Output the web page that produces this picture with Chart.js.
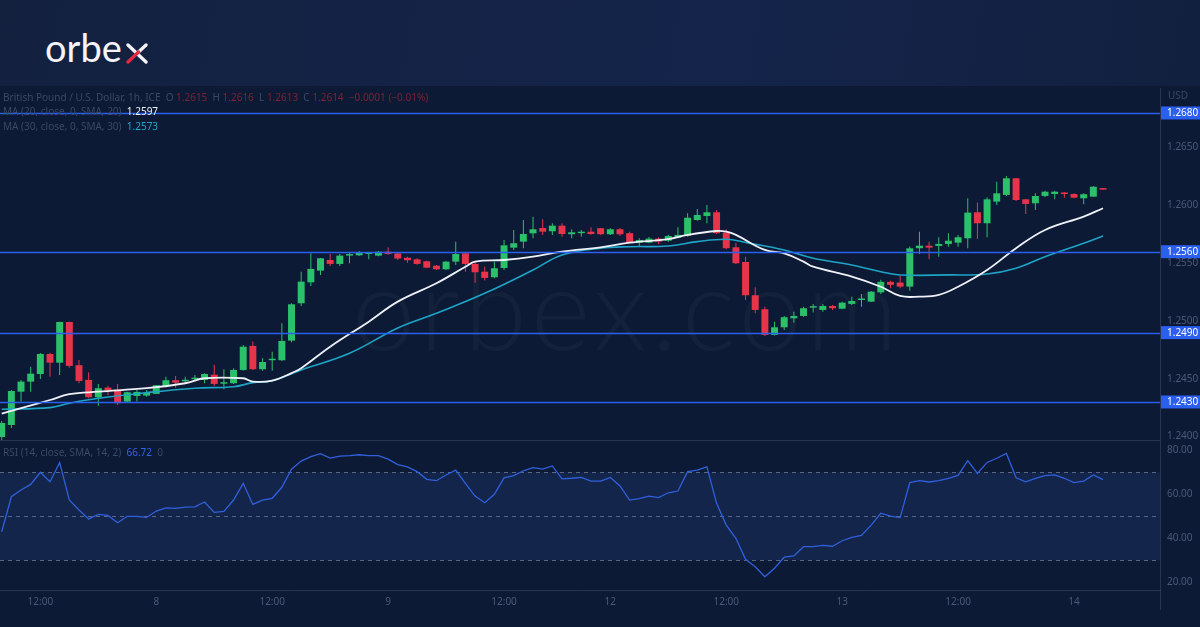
<!DOCTYPE html>
<html>
<head>
<meta charset="utf-8">
<script src="https://cdn.jsdelivr.net/npm/chart.js@4.4.0/dist/chart.umd.min.js"></script>
<style>
  html, body { margin: 0; padding: 0; width: 1200px; height: 627px; overflow: hidden; background: #0d1a35; font-family: "Noto Sans", sans-serif; }
  #top { position: absolute; left: 0; top: 0; width: 1200px; height: 86px; background: linear-gradient(100deg, #13213f 0%, #14244a 60%, #12203f 100%); }
  #logo { position: absolute; left: 45px; top: 25px; font-family: Lato, sans-serif; font-size: 38px; line-height: 1.2; color: #f4f4f8; }
  #logox { position: absolute; left: 126px; top: 43px; }
  #wm { position: absolute; left: 352px; top: 238px; font-family: Lato, sans-serif; font-weight: 300; font-size: 114px; line-height: 1.2; letter-spacing: 4px; color: rgba(255,255,255,0.032); white-space: nowrap; }
  #pw { position: absolute; left: 0; top: 0; width: 1200px; height: 440px; overflow: hidden; }
  #rw { position: absolute; left: 0; top: 420px; width: 1200px; height: 207px; }
  canvas { display: block; }
  .t { position: absolute; font-size: 10px; color: #3b4864; white-space: pre; line-height: 12px; }
  .r { color: #7c2232; }
</style>
</head>
<body>
<div id="top"></div>
<div id="logo">orbe</div>
<svg id="logox" width="22" height="21" viewBox="0 0 22 21">
  <line x1="2" y1="2" x2="20" y2="19" stroke="#f4f4f8" stroke-width="3.3" stroke-linecap="round"/>
  <line x1="20" y1="2" x2="11.5" y2="10" stroke="#f4f4f8" stroke-width="3.3" stroke-linecap="round"/>
  <line x1="12.5" y1="9" x2="2" y2="19" stroke="#e3283f" stroke-width="3.3" stroke-linecap="round"/>
</svg>
<div id="wm">orbex.com</div>
<div id="pw"><canvas id="price" width="1200" height="460"></canvas></div>
<div id="rw"><canvas id="rsi" width="1200" height="207"></canvas></div>
<div class="t" style="left:3px;top:91px">British Pound / U.S. Dollar, 1h, ICE  O <span class="r">1.2615</span>  H <span class="r">1.2616</span>  L <span class="r">1.2613</span>  C <span class="r">1.2614  −0.0001 (−0.01%)</span></div>
<div class="t" style="left:3px;top:105px">MA (20, close, 0, SMA, 20)  <span style="color:#eef1f7">1.2597</span></div>
<div class="t" style="left:3px;top:120px">MA (30, close, 0, SMA, 30)  <span style="color:#22a6c8">1.2573</span></div>
<div class="t" style="left:1168px;top:89px">USD</div>
<div class="t" style="left:3px;top:446px">RSI (14, close, SMA, 14, 2)  <span style="color:#2f64e8">66.72</span>  0</div>
<script>
// hourly candles, GBP/USD 1h, index 0 = 7th 08:00
const opens = [
  1.23997, 1.24101, 1.24389, 1.24476, 1.24542, 1.24715, 1.24640, 1.24992, 1.24618, 1.24491,
  1.24341, 1.24424, 1.24407, 1.24303, 1.24352, 1.24355, 1.24370, 1.24439, 1.24488, 1.24479,
  1.24497, 1.24491, 1.24536, 1.24458, 1.24462, 1.24577, 1.24785, 1.24583, 1.24661, 1.24661,
  1.24831, 1.25154, 1.25335, 1.25436, 1.25528, 1.25494, 1.25566, 1.25569, 1.25580, 1.25566,
  1.25600, 1.25585, 1.25548, 1.25534, 1.25517, 1.25479, 1.25448, 1.25514, 1.25586, 1.25494,
  1.25427, 1.25379, 1.25459, 1.25635, 1.25687, 1.25759, 1.25805, 1.25777, 1.25825, 1.25751,
  1.25760, 1.25773, 1.25803, 1.25751, 1.25794, 1.25760, 1.25678, 1.25678, 1.25713, 1.25695,
  1.25721, 1.25736, 1.25874, 1.25909, 1.25941, 1.25765, 1.25638, 1.25511, 1.25223, 1.25102,
  1.24880, 1.24946, 1.25024, 1.25044, 1.25116, 1.25096, 1.25130, 1.25107, 1.25148, 1.25182,
  1.25168, 1.25248, 1.25339, 1.25333, 1.25298, 1.25630, 1.25652, 1.25650, 1.25667, 1.25678,
  1.25716, 1.25941, 1.25846, 1.26033, 1.26091, 1.26235, 1.26053, 1.26019, 1.26082, 1.26099,
  1.26111, 1.26099, 1.26062, 1.26076, 1.26149
];
const highs = [
  1.24136, 1.24404, 1.24490, 1.24605, 1.24724, 1.24725, 1.24995, 1.24995, 1.24663, 1.24557,
  1.24456, 1.24441, 1.24456, 1.24389, 1.24404, 1.24404, 1.24447, 1.24519, 1.24525, 1.24519,
  1.24534, 1.24548, 1.24623, 1.24583, 1.24592, 1.24793, 1.24822, 1.24678, 1.24735, 1.24981,
  1.25154, 1.25427, 1.25586, 1.25545, 1.25580, 1.25580, 1.25592, 1.25606, 1.25600, 1.25606,
  1.25638, 1.25598, 1.25557, 1.25543, 1.25522, 1.25485, 1.25520, 1.25687, 1.25595, 1.25514,
  1.25470, 1.25514, 1.25701, 1.25788, 1.25874, 1.25903, 1.25881, 1.25846, 1.25846, 1.25794,
  1.25788, 1.25811, 1.25805, 1.25803, 1.25805, 1.25773, 1.25716, 1.25727, 1.25725, 1.25747,
  1.25811, 1.25932, 1.25970, 1.26004, 1.25961, 1.25794, 1.25678, 1.25557, 1.25292, 1.25124,
  1.24995, 1.25044, 1.25081, 1.25124, 1.25148, 1.25148, 1.25139, 1.25168, 1.25211, 1.25234,
  1.25260, 1.25357, 1.25348, 1.25390, 1.25644, 1.25773, 1.25687, 1.25725, 1.25760, 1.25745,
  1.26062, 1.26024, 1.26071, 1.26206, 1.26255, 1.26238, 1.26053, 1.26105, 1.26128, 1.26128,
  1.26117, 1.26105, 1.26105, 1.26168, 1.26151
];
const lows = [
  1.23971, 1.24075, 1.24303, 1.24389, 1.24499, 1.24519, 1.24534, 1.24597, 1.24462, 1.24332,
  1.24268, 1.24358, 1.24274, 1.24294, 1.24303, 1.24346, 1.24370, 1.24427, 1.24424, 1.24462,
  1.24485, 1.24462, 1.24439, 1.24410, 1.24456, 1.24571, 1.24577, 1.24571, 1.24571, 1.24655,
  1.24817, 1.25130, 1.25304, 1.25399, 1.25477, 1.25477, 1.25499, 1.25563, 1.25535, 1.25560,
  1.25574, 1.25528, 1.25505, 1.25488, 1.25457, 1.25442, 1.25442, 1.25485, 1.25427, 1.25332,
  1.25350, 1.25370, 1.25442, 1.25615, 1.25630, 1.25716, 1.25745, 1.25745, 1.25730, 1.25716,
  1.25730, 1.25747, 1.25745, 1.25745, 1.25736, 1.25674, 1.25650, 1.25674, 1.25667, 1.25687,
  1.25716, 1.25730, 1.25868, 1.25846, 1.25753, 1.25621, 1.25494, 1.25182, 1.25067, 1.24871,
  1.24874, 1.24923, 1.24986, 1.25038, 1.25073, 1.25081, 1.25096, 1.25102, 1.25139, 1.25124,
  1.25165, 1.25234, 1.25284, 1.25284, 1.25263, 1.25580, 1.25535, 1.25557, 1.25643, 1.25643,
  1.25630, 1.25710, 1.25725, 1.26004, 1.26082, 1.26039, 1.25926, 1.25961, 1.26071, 1.26053,
  1.26067, 1.26062, 1.26010, 1.26073, 1.26134
];
const closes = [
  1.24118, 1.24395, 1.24476, 1.24545, 1.24715, 1.24640, 1.24992, 1.24612, 1.24482, 1.24341,
  1.24419, 1.24398, 1.24289, 1.24384, 1.24387, 1.24378, 1.24445, 1.24488, 1.24467, 1.24491,
  1.24508, 1.24542, 1.24456, 1.24464, 1.24577, 1.24778, 1.24583, 1.24646, 1.24666, 1.24828,
  1.25145, 1.25341, 1.25451, 1.25543, 1.25494, 1.25566, 1.25572, 1.25595, 1.25595, 1.25600,
  1.25580, 1.25541, 1.25526, 1.25494, 1.25462, 1.25448, 1.25514, 1.25580, 1.25494, 1.25422,
  1.25373, 1.25457, 1.25655, 1.25673, 1.25753, 1.25794, 1.25773, 1.25825, 1.25753, 1.25768,
  1.25771, 1.25753, 1.25751, 1.25794, 1.25751, 1.25682, 1.25701, 1.25713, 1.25687, 1.25736,
  1.25745, 1.25894, 1.25918, 1.25941, 1.25760, 1.25630, 1.25500, 1.25223, 1.25096, 1.24880,
  1.24946, 1.25033, 1.25044, 1.25111, 1.25124, 1.25130, 1.25111, 1.25159, 1.25174, 1.25188,
  1.25254, 1.25339, 1.25313, 1.25298, 1.25629, 1.25652, 1.25635, 1.25667, 1.25695, 1.25725,
  1.25938, 1.25846, 1.26053, 1.26105, 1.26235, 1.26047, 1.26013, 1.26082, 1.26119, 1.26119,
  1.26099, 1.26067, 1.26097, 1.26162, 1.26137
];

// moving averages at these candle indices
const ma20Idx = [0, 2, 5, 7, 10, 15, 19, 21, 25, 26, 28, 30, 31, 34, 38, 41, 45, 48, 49, 52, 55, 58, 62, 65, 69, 71, 74, 75, 76, 79, 81, 83, 84, 88, 91, 93, 95, 97, 99, 102, 105, 108, 112, 114];
const ma20 = [1.24200, 1.24246, 1.24317, 1.24367, 1.24389, 1.24419, 1.24462, 1.24505, 1.24505, 1.24476, 1.24484, 1.24550, 1.24592, 1.24778, 1.24995, 1.25168, 1.25327, 1.25470, 1.25514, 1.25528, 1.25557, 1.25600, 1.25638, 1.25678, 1.25708, 1.25745, 1.25779, 1.25773, 1.25745, 1.25615, 1.25586, 1.25514, 1.25470, 1.25384, 1.25297, 1.25217, 1.25211, 1.25226, 1.25297, 1.25442, 1.25630, 1.25788, 1.25903, 1.25976];
const ma30Idx = [0, 5, 7, 10, 15, 20, 24, 26, 28, 31, 36, 41, 45, 50, 55, 58, 62, 65, 69, 72, 75, 77, 81, 84, 88, 91, 93, 98, 102, 105, 108, 112, 114];
const ma30 = [1.24237, 1.24251, 1.24289, 1.24332, 1.24381, 1.24419, 1.24432, 1.24467, 1.24484, 1.24577, 1.24721, 1.24940, 1.25067, 1.25240, 1.25442, 1.25572, 1.25630, 1.25643, 1.25649, 1.25687, 1.25708, 1.25680, 1.25615, 1.25543, 1.25485, 1.25427, 1.25399, 1.25399, 1.25407, 1.25457, 1.25557, 1.25673, 1.25736];

const rsi = [
  43, 58.9, 62, 64.5, 70, 65.7, 74.4, 57.4, 52.9, 48.8,
  50.9, 50.4, 47.1, 50, 50, 49.5, 52.4, 53.8, 53.6, 54.2,
  54.3, 56.5, 51.8, 52.2, 57.4, 65, 55.4, 57.4, 58.2, 63.2,
  71.4, 75.1, 77.1, 78.5, 76.5, 77.4, 77.6, 78, 77.6, 77.6,
  76, 73.5, 72.5, 70.3, 66.8, 66.2, 68.8, 71, 65, 59.2,
  56.2, 60, 67.5, 68.5, 70.7, 72.1, 71.5, 72.9, 67, 67.3,
  67.7, 66, 66, 67.7, 63.8, 57.4, 58, 59.2, 58.5, 60.7,
  61.5, 70.3, 71, 72.5, 55.9, 46, 40, 30.5, 27.1, 22.5,
  26.4, 31.4, 32, 36.2, 36.2, 36.8, 36.4, 38.9, 40.4, 41.3,
  46, 51.4, 50.1, 49.4, 65.3, 66.2, 65.6, 66.2, 67.3, 68.6,
  75.3, 69.5, 74.5, 76.4, 78.6, 67.5, 65.7, 67.3, 68.5, 68.8,
  67.3, 65.3, 66, 68.8, 66.72
];

const levels = [1.2680, 1.2560, 1.2490, 1.2430];
const priceTicks = [1.2400, 1.2450, 1.2500, 1.2550, 1.2600, 1.2650];
const rsiTicks = [20, 40, 60, 80];
const rsiBands = [70, 50, 30];
const timeTickIdx = [4, 16, 28, 40, 52, 63, 75, 87, 99, 111];
const timeTickText = ['12:00', '8', '12:00', '9', '12:00', '12', '12:00', '13', '12:00', '14'];

const UP = '#2bc16a', DOWN = '#e8344a', LEVEL = '#2a5ff0';
const AXIS_TXT = '#4b5877', FRAME = 'rgba(120,135,170,0.25)';
const X_MIN = -0.176, X_MAX = 119.9;

const idx = opens.map((_, i) => i);
const candleColors = idx.map(i => closes[i] >= opens[i] ? UP : DOWN);

const xScale = (show) => ({
  type: 'linear', min: X_MIN, max: X_MAX, offset: false, display: show,
  grid: { display: false, drawTicks: false },
  border: { display: show, color: FRAME },
  afterBuildTicks: s => { s.ticks = timeTickIdx.map(v => ({ value: v })); },
  afterFit: s => { if (show) s.height = 37; },
  ticks: {
    autoSkip: false, maxRotation: 0, padding: 6, color: AXIS_TXT,
    font: { size: 10, family: 'Noto Sans' },
    callback: v => timeTickText[timeTickIdx.indexOf(v)]
  }
});

const yTicks = (list, digits) => ({
  color: AXIS_TXT, padding: 7, font: { size: 10, family: 'Noto Sans' },
  callback: v => v.toFixed(digits)
});

const levelPlugin = {
  id: 'levels',
  afterDatasetsDraw(chart) {
    const { ctx, chartArea, scales: { y } } = chart;
    ctx.save();
    ctx.strokeStyle = LEVEL;
    ctx.lineWidth = 1.5;
    levels.forEach(l => {
      const py = Math.round(y.getPixelForValue(l)) + 0.5;
      ctx.beginPath(); ctx.moveTo(chartArea.left, py); ctx.lineTo(chartArea.right, py); ctx.stroke();
    });
    ctx.restore();
  },
  afterDraw(chart) {
    const { ctx, chartArea, scales: { y } } = chart;
    ctx.save();
    ctx.strokeStyle = FRAME;
    ctx.lineWidth = 1;
    ctx.beginPath(); ctx.moveTo(chartArea.right + 0.5, chartArea.top); ctx.lineTo(chartArea.right + 0.5, chartArea.bottom); ctx.stroke();
    ctx.font = '10px "Noto Sans"';
    ctx.textBaseline = 'middle';
    levels.forEach(l => {
      const py = y.getPixelForValue(l);
      ctx.fillStyle = LEVEL;
      ctx.fillRect(chartArea.right + 1, py - 6.5, 40, 13);
      ctx.fillStyle = '#ffffff';
      ctx.fillText(l.toFixed(4), chartArea.right + 7, py + 0.5);
    });
    ctx.restore();
  }
};

new Chart(document.getElementById('price'), {
  type: 'bar',
  data: {
    datasets: [
      {
        type: 'line', label: 'MA 20', order: 0,
        data: ma20Idx.map((x, k) => ({ x, y: ma20[k] })),
        borderColor: '#eef1f7', borderWidth: 1.8, pointRadius: 0, tension: 0.4
      },
      {
        type: 'line', label: 'MA 30', order: 0,
        data: ma30Idx.map((x, k) => ({ x, y: ma30[k] })),
        borderColor: '#1ea4c6', borderWidth: 1.6, pointRadius: 0, tension: 0.4
      },
      {
        label: 'wicks', order: 2, grouped: false, maxBarThickness: 1,
        data: idx.map(i => ({ x: i, y: [lows[i], highs[i]] })),
        backgroundColor: candleColors, borderWidth: 0
      },
      {
        label: 'bodies', order: 1, grouped: false, maxBarThickness: 7, minBarLength: 1.5,
        data: idx.map(i => ({ x: i, y: [opens[i], closes[i]] })),
        backgroundColor: candleColors, borderWidth: 0
      }
    ]
  },
  options: {
    responsive: false, animation: false,
    layout: { padding: { top: 88, left: 0, right: 0, bottom: 20 } },
    plugins: { legend: { display: false }, tooltip: { enabled: false } },
    scales: {
      x: xScale(false),
      y: {
        position: 'right', min: 1.23971, max: 1.27016,
        grid: { display: false, drawTicks: false }, border: { display: false },
        afterFit: s => { s.width = 40; },
        afterBuildTicks: s => { s.ticks = priceTicks.map(v => ({ value: v })); },
        ticks: yTicks(priceTicks, 4)
      }
    }
  },
  plugins: [levelPlugin]
});

const rsiPlugin = {
  id: 'rsiBands',
  beforeDatasetsDraw(chart) {
    const { ctx, chartArea, scales: { y } } = chart;
    ctx.save();
    const top = y.getPixelForValue(rsiBands[0]);
    const bot = y.getPixelForValue(rsiBands[2]);
    ctx.fillStyle = 'rgba(46,78,160,0.22)';
    ctx.fillRect(chartArea.left, top, chartArea.right - chartArea.left, bot - top);
    ctx.strokeStyle = 'rgba(150,160,185,0.55)';
    ctx.setLineDash([4, 4]);
    ctx.lineWidth = 1;
    rsiBands.forEach(v => {
      const py = Math.round(y.getPixelForValue(v)) + 0.5;
      ctx.beginPath(); ctx.moveTo(chartArea.left, py); ctx.lineTo(chartArea.right, py); ctx.stroke();
    });
    ctx.restore();
  },
  afterDraw(chart) {
    const { ctx, chartArea } = chart;
    ctx.save();
    ctx.strokeStyle = FRAME;
    ctx.lineWidth = 1;
    ctx.beginPath();
    ctx.moveTo(0, chartArea.top + 0.5); ctx.lineTo(chartArea.right, chartArea.top + 0.5);
    ctx.moveTo(chartArea.right + 0.5, chartArea.top); ctx.lineTo(chartArea.right + 0.5, chartArea.bottom + 20);
    ctx.stroke();
    ctx.restore();
  }
};

new Chart(document.getElementById('rsi'), {
  type: 'line',
  data: {
    datasets: [{
      label: 'RSI',
      data: idx.map(i => ({ x: i, y: rsi[i] })),
      borderColor: '#3060dc', borderWidth: 1.3, pointRadius: 0, tension: 0
    }]
  },
  options: {
    responsive: false, animation: false,
    layout: { padding: { top: 20, left: 0, right: 0, bottom: 0 } },
    plugins: { legend: { display: false }, tooltip: { enabled: false } },
    scales: {
      x: xScale(true),
      y: {
        position: 'right', min: 16.5, max: 84.7,
        grid: { display: false, drawTicks: false }, border: { display: false },
        afterFit: s => { s.width = 40; },
        afterBuildTicks: s => { s.ticks = rsiTicks.map(v => ({ value: v })); },
        ticks: yTicks(rsiTicks, 2)
      }
    }
  },
  plugins: [rsiPlugin]
});
</script>
</body>
</html>
